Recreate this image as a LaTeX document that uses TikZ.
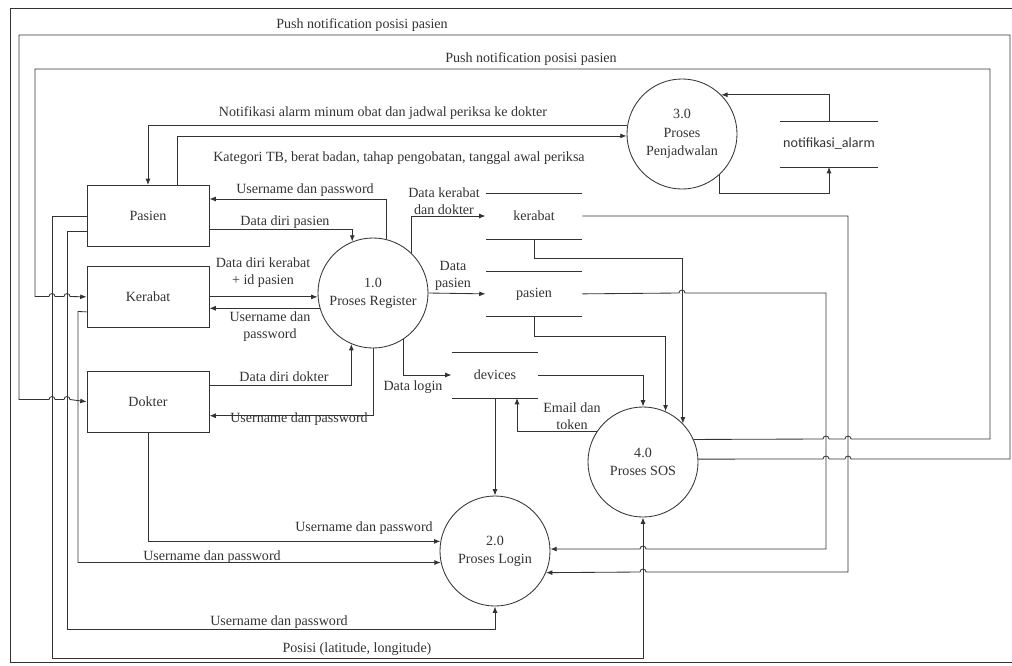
\documentclass[tikz,border=0pt]{standalone}
\usepackage{fontspec}
\setmainfont{Liberation Serif}
\newfontfamily\storefont{Carlito}
\usetikzlibrary{calc,positioning,arrows.meta}

\begin{document}
\begin{tikzpicture}[x=0.025cm,y=-0.025cm,line width=0.6pt,color=black!80,
  >={Latex[length=4.5pt,width=3.5pt]},font=\fontsize{10}{12}\selectfont]
 \tikzstyle{ent}=[rectangle,draw,minimum width=3.05cm,minimum height=1.525cm]
 \tikzstyle{proc}=[circle,draw,minimum size=2.75cm,inner sep=0,align=center,font=\fontsize{10}{13}\selectfont]
 \tikzstyle{store}=[minimum width=2.4cm,minimum height=1.125cm,inner sep=0]
 \tikzstyle{lbl}=[inner sep=0,align=center]
 \useasboundingbox (0,0) rectangle (1012,665);
 \draw (1012,8) -- (10,8) -- (10,662) -- (1012,662);
  \node[ent] (pasien) at (148,216) {Pasien};
  \node[ent] (kerabat) [below=0.475cm of pasien] {Kerabat};
  \node[ent] (dokter) [below=1.075cm of kerabat] {Dokter};
  \node[proc] (p1) at (373,293) {1.0\\Proses Register};
  \node[proc] (p2) at (495,551) {2.0\\Proses Login};
  \node[proc] (p3) at (682,134) {3.0\\Proses\\Penjadwalan};
  \node[proc] (p4) at (643,462) {4.0\\Proses SOS};
  \node[store] (dsK) at (534,216) {kerabat};
  \node[store] (dsP) [below=0.8cm of dsK] {pasien};
  \node[store,minimum width=2.15cm] (dsD) at (495,375) {devices};
  \node[store,minimum width=2.45cm,font=\storefont\fontsize{10}{12}\selectfont] (dsN) at (829,144) {notifikasi\_alarm};
\draw (dsK.north west) -- (dsK.north east) (dsK.south west) -- (dsK.south east);
\draw (dsP.north west) -- (dsP.north east) (dsP.south west) -- (dsP.south east);
\draw (dsD.north west) -- (dsD.north east) (dsD.south west) -- (dsD.south east);
\draw (dsN.north west) -- (dsN.north east) (dsN.south west) -- (dsN.south east);
  % labels
  \node[lbl] (lb1) at (362,25) {Push notification posisi pasien};
  \node[lbl] (lb2) at (531,59) {Push notification posisi pasien};
  \node[lbl] (lb3) at (383,113) {Notifikasi alarm minum obat dan jadwal periksa ke dokter};
  \node[lbl] (lb4) at (399,158) {Kategori TB, berat badan, tahap pengobatan, tanggal awal periksa};
  \node[lbl] (lb5) at (305,190) {Username dan password};
  \node[lbl] (lb6) at (285,222) {Data diri pasien};
  \node[lbl] (lb7) at (263,273) {Data diri kerabat\\+ id pasien};
  \node[lbl] (lb8) at (270,327) {Username dan\\password};
  \node[lbl] (lb9) at (284,377) {Data diri dokter};
  \node[lbl] (lb10) at (299,419) {Username dan password};
  \node[lbl] (lb11) at (444,201) {Data kerabat\\dan dokter};
  \node[lbl] (lb12) at (453,276) {Data\\pasien};
  \node[lbl] (lb13) at (413,387) {Data login};
  \node[lbl] (lb14) at (572,416) {Email dan\\token};
  \node[lbl] (lb15) at (364,528) {Username dan password};
  \node[lbl] (lb16) at (212,557) {Username dan password};
  \node[lbl] (lb17) at (279,622) {Username dan password};
  \node[lbl] (lb18) at (357,649) {Posisi (latitude, longitude)};
% penjadwalan
\draw[->] (p3.171.6) -| (pasien.north);
\draw[->] ($(pasien.north)+(29,0)$) |- (p3.182.1);
\draw[->] (dsN.north) |- (p3.45.2);
\draw[->] (p3.313.7) |- (829,193) -- (dsN.south);
% register
\draw[->] (p1.76.3) |- ($(pasien.east)+(0,-17)$);
\draw[->] ($(pasien.east)+(0,13)$) -| (p1.112.4);
\draw[->] (kerabat.east) -- (kerabat.east -| p1.west);
\draw[->] (p1.196.9) -- (p1.196.9 -| kerabat.east);
\draw[->] ($(dokter.east)+(0,-16)$) -| (p1.247.6);
\draw[->] (p1.south) |- ($(dokter.east)+(0,14)$);
\draw[->] (p1.46.3) |- (dsK.west);
\draw[->] (p1.east) -- (dsP.west);
\draw[->] (p1.303.1) |- (dsD.west);
% sos
\draw[->] (dsK.south) -- ++(0,19) -| (p4.44.8);
\draw[->] (dsP.south) -- ++(0,20) -| (p4.66.4);
\draw[->] (dsD.east) -| (p4.north);
\draw[->] (p4.147) -| ($(dsD.south)+(22,0)$);
\draw[->] (dsD.south) -- (p2.north);
% login
\draw[->] (dsK.east) -- (848,216) -- (848,572) -- (646,572) arc[start angle=0,end angle=-180,radius=3] -- (p2.337.1);
\draw[->] (dsP.east) -- (679,293) arc[start angle=180,end angle=360,radius=3] -- (826,293) -- (826,549)
   -- (646,549) arc[start angle=0,end angle=-180,radius=3] -- (p2.2.1);
\draw[->] ($(pasien.west)+(0,15)$) -- (67,231) -- (67,629) -| (p2.south);
\draw[->] ($(kerabat.west)+(0,15)$) -- (78,311.5) |- (p2.192.8);
\draw[->] (dokter.south) |- (p2.170.4);
\draw[->] (pasien.west) -- (52,216) -- (52,658) -| (p4.south);
% push notification
\draw[->] (p4.24.7) -- (823,439) arc[start angle=180,end angle=360,radius=3] -- (845,439) arc[start angle=180,end angle=360,radius=3]
   -- (990,439) -- (990,69) -- (35,69) -- (35,296.5) -- (49,296.5) arc[start angle=180,end angle=360,radius=3]
   -- (64,296.5) arc[start angle=180,end angle=360,radius=3] -- (kerabat.west);
\draw[->] (p4.3.1) -- (823,459) arc[start angle=180,end angle=360,radius=3] -- (845,459) arc[start angle=180,end angle=360,radius=3]
   -- (1010,459) -- (1010,35) -- (19,35) -- (19,399.5) -- (49,399.5) arc[start angle=180,end angle=360,radius=3]
   -- (64,399.5) arc[start angle=180,end angle=360,radius=3] -- (dokter.west);
     \end{tikzpicture}
\end{document}
